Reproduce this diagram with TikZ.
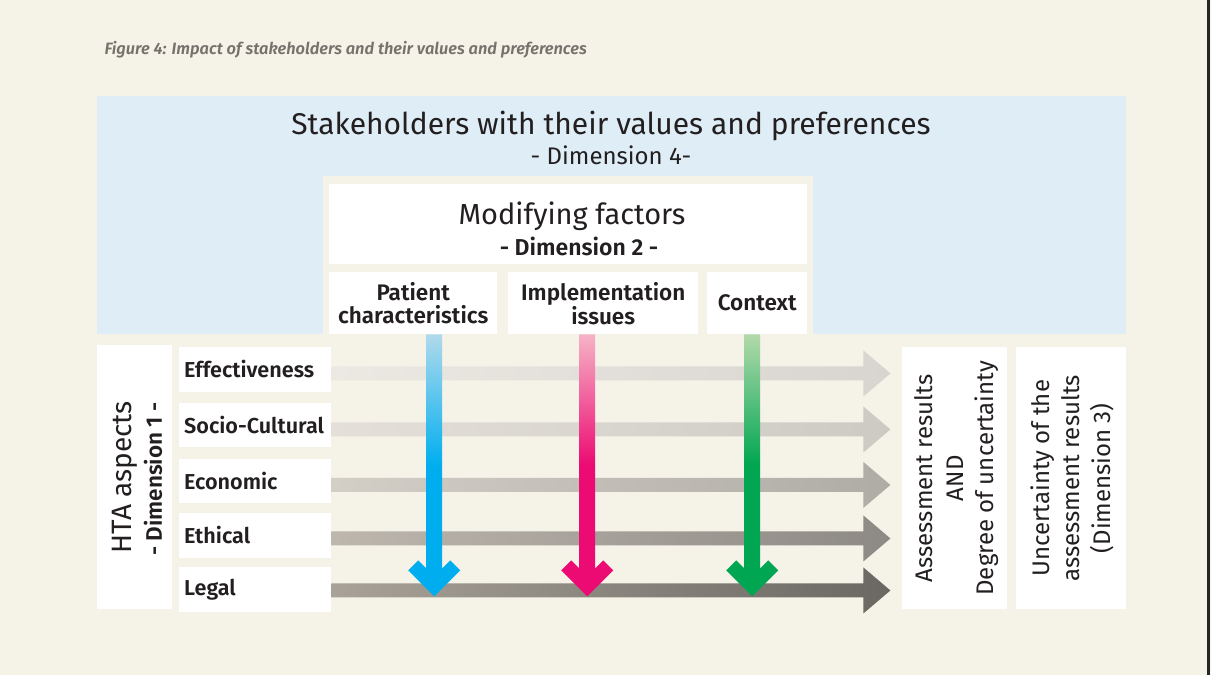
\documentclass[tikz,border=0pt]{standalone}
\usepackage{fontspec}
\setmainfont{Fira Sans}
\newfontfamily\semib{Fira Sans SemiBold}
\usetikzlibrary{calc}
\definecolor{bg}{HTML}{F5F2E8}
\definecolor{skyb}{HTML}{DFEDF6}
\definecolor{txt}{HTML}{231F20}
\definecolor{capc}{HTML}{77716B}
\definecolor{blueT}{HTML}{B0DAEC}
\definecolor{blueS}{HTML}{00AEEF}
\definecolor{pinkT}{HTML}{F6B3C6}
\definecolor{pinkS}{HTML}{EC0B72}
\definecolor{greenT}{HTML}{B2D9AC}
\definecolor{greenS}{HTML}{00A651}
\definecolor{g1L}{HTML}{ECE9E3}\definecolor{g1R}{HTML}{D8D5D0}
\definecolor{g2L}{HTML}{E4E0D9}\definecolor{g2R}{HTML}{CDCAC4}
\definecolor{g3L}{HTML}{D3CEC6}\definecolor{g3R}{HTML}{AFACA6}
\definecolor{g4L}{HTML}{BDB7AE}\definecolor{g4R}{HTML}{8D8984}
\definecolor{g5L}{HTML}{A8A298}\definecolor{g5R}{HTML}{6B6863}
\begin{document}
\begin{tikzpicture}[x=1pt,y=-1pt,
  wbox/.style={fill=white, inner sep=0pt, anchor=north west, align=center, text=txt},
  lab/.style={fill=white, anchor=north west, text width=142pt, inner xsep=5pt, inner ysep=0pt,
    minimum height=44.5pt, align=left, text=txt, font=\semib\fontsize{21.6}{24}\selectfont},
  fac/.style={wbox, font=\semib\fontsize{22.5}{23}\selectfont},
  pics/harrow/.style 2 args={code={
    \shade[left color=#1, right color=#2] (0,-7) -- (532,-7) -- (532,-23) -- (559,0)
      -- (532,23) -- (532,7) -- (0,7) -- cycle;}},
  pics/varrow/.style 2 args={code={
    \shade[top color=#1, bottom color=#2, middle color=#2] (-8,0) -- (-8,234) -- (-16,226)
      -- (-26,236) -- (0,262) -- (26,236) -- (16,226) -- (8,234) -- (8,0) -- cycle;}}
]
\useasboundingbox (0,0) rectangle (1211,675);
\fill[bg] (0,0) rectangle (1211,675);
\fill[black!85] (1207,0) rectangle (1210,675);

% caption
\node[anchor=west, text=capc, font=\semib\itshape\fontsize{16.4}{18}\selectfont] (cap) at (101,50)
  {Figure 4: Impact of stakeholders and their values and preferences};

% stakeholders
\node[wbox, fill=skyb, minimum width=1029pt, minimum height=238pt] (stakebox) at (97,96) {};
\node[text=txt, font=\fontsize{30}{32}\selectfont] (stake) at (611,126)
  {Stakeholders with their values and preferences};
\node[text=txt, font=\fontsize{24}{26}\selectfont] (dim4) at (611,155) {- Dimension 4-};

% modifying factors
\node[wbox, fill=bg, minimum width=490pt, minimum height=158pt] (modinset) at (323,176) {};
\node[wbox, minimum width=478pt, minimum height=80pt] (mod) at (329,184) {};
\node[text=txt, font=\fontsize{29}{30}\selectfont] (modt) at (572,216) {Modifying factors};
\node[text=txt, font=\semib\fontsize{23}{24}\selectfont] (dim2) at (579,246) {- Dimension 2 -};
\node[fac, minimum width=168pt, minimum height=62pt] (pat) at (329,272) {Patient\\characteristics};
\node[fac, minimum width=190pt, minimum height=62pt] (impl) at (508,272) {Implementation\\issues};
\node[fac, minimum width=100pt, minimum height=62pt] (ctx) at (707,272) {Context};

% HTA aspects
\node[wbox, minimum width=75pt, minimum height=264pt] (htabox) at (97,345) {};
\node[rotate=90, text=txt, font=\fontsize{28}{28}\selectfont] (hta) at (125,477) {HTA aspects};
\node[rotate=90, text=txt, font=\semib\fontsize{22.5}{24}\selectfont] (dim1) at (153,479) {- Dimension 1 -};

\node[lab] (eff) at (179,347) {Effectiveness};
\node[lab] (soc) at (179,402.5) {\mbox{Socio-Cultural}};
\node[lab] (eco) at (179,458.5) {Economic};
\node[lab] (eth) at (179,513) {Ethical};
\node[lab] (leg) at (179,567) {Legal};

% results
\node[wbox, minimum width=105pt, minimum height=262pt] (resbox) at (902,347) {};
\node[rotate=90, align=center, text=txt, font=\fontsize{24}{30.5}\selectfont] (res) at ([xshift=2pt]resbox.center)
  {Assessment results\\AND\\Degree of uncertainty};
\node[wbox, minimum width=110pt, minimum height=262pt] (uncbox) at (1016,347) {};
\node[rotate=90, align=center, text=txt, font=\fontsize{24}{30.5}\selectfont] (unc) at ([xshift=1pt]uncbox.center)
  {Uncertainty of the\\assessment results\\(Dimension 3)};

% horizontal arrows
\pic at ([yshift=-4pt]eff.east) {harrow={g1L}{g1R}};
\pic at ([yshift=-4.5pt]soc.east) {harrow={g2L}{g2R}};
\pic at ([yshift=-4pt]eco.east) {harrow={g3L}{g3R}};
\pic at ([yshift=-3pt]eth.east) {harrow={g4L}{g4R}};
\pic at ([yshift=-1pt]leg.east) {harrow={g5L}{g5R}};

% vertical arrows
\coordinate (pa) at ([xshift=21pt]pat.south);
\coordinate (ia) at ([xshift=-16pt]impl.south);
\coordinate (ca) at ([xshift=-5pt]ctx.south);
\pic at (pa) {varrow={blueT}{blueS}};
\pic at (ia) {varrow={pinkT}{pinkS}};
\pic at (ca) {varrow={greenT}{greenS}};
\end{tikzpicture}
\end{document}
